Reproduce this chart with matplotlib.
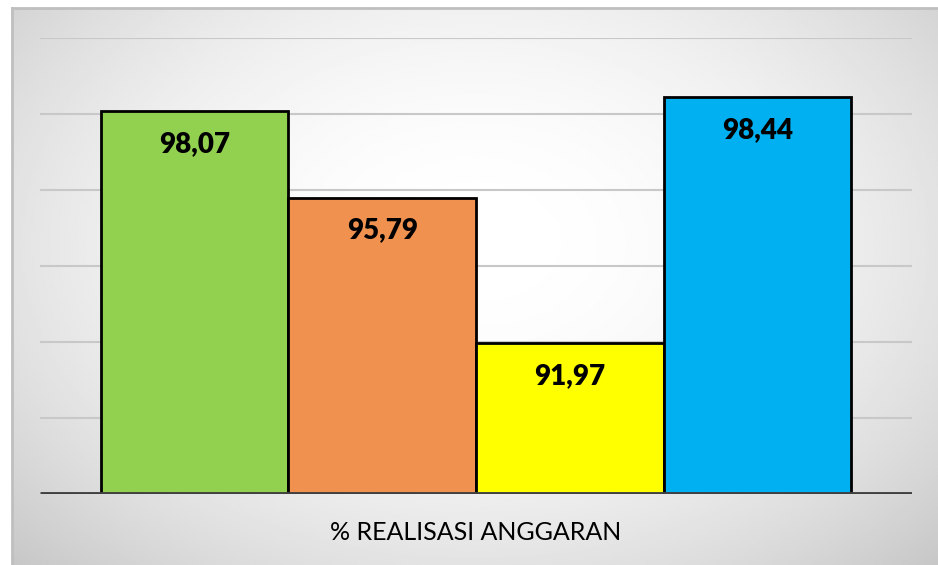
import numpy as np
import matplotlib
matplotlib.use("Agg")
import matplotlib.pyplot as plt

# Dati del grafico
categorie = ["A", "B", "C", "D"]
valori = [98.07, 95.79, 91.97, 98.44]
etichette = ["98,07", "95,79", "91,97", "98,44"]
colori = ["#92D050", "#F0914F", "#FFFF00", "#00B0F0"]
titolo_asse = "% REALISASI ANGGARAN"
y_min, y_max, y_passo = 88, 100, 2

plt.rcParams["font.family"] = ["Lato", "DejaVu Sans"]

W, H = 938, 565
fig = plt.figure(figsize=(W / 100, H / 100), dpi=100)
fig.patch.set_facecolor("white")

# Sfondo con gradiente radiale
bg = fig.add_axes([12 / W, 0, 1 - 12 / W, 1 - 8 / H])
gx, gy = np.meshgrid(np.linspace(0, 1, 400), np.linspace(0, 1, 300))
r2 = ((gx - 0.5) / 0.5) ** 2 + ((gy - 0.42) / 0.58) ** 2
grad = 1 - 0.22 * np.clip(r2 / 2.0, 0, 1)
bg.imshow(grad, cmap="gray", vmin=0, vmax=1, aspect="auto", extent=[0, 1, 1, 0])
bg.set_xticks([])
bg.set_yticks([])
for lato in ["right", "bottom"]:
    bg.spines[lato].set_visible(False)
for lato in ["top", "left"]:
    bg.spines[lato].set_color("#bfbfbf")
    bg.spines[lato].set_linewidth(2)

# Area del grafico
ax = fig.add_axes([40 / W, 1 - 494 / H, 872 / W, (494 - 38) / H])
ax.patch.set_alpha(0)
x = np.arange(len(valori))
ax.set_xlim(1.5 - 2.3253, 1.5 + 2.3253)
ax.set_ylim(y_min, y_max)

for yy in range(y_min + y_passo, y_max + 1, y_passo):
    ax.axhline(yy, color="#c8c8c8", lw=1.5, zorder=1)

ax.bar(x, [v - y_min for v in valori], bottom=y_min, width=1.0, color=colori,
       edgecolor="black", linewidth=2, zorder=2)
ax.axhline(y_min, color="#404040", lw=3.5, zorder=3, solid_capstyle="butt")

for xi, v, lab in zip(x, valori, etichette):
    ax.annotate(lab, (xi, v), xytext=(0, -23.5), textcoords="offset points",
                ha="center", va="center", fontsize=20, fontweight="heavy",
                color="black", zorder=4)

for s in ax.spines.values():
    s.set_visible(False)
ax.set_xticks([])
ax.set_yticks([])

fig.text(476 / W, 1 - 533 / H, titolo_asse, ha="center", va="center",
         fontsize=18, color="black")

fig.savefig("out.png", dpi=100)
